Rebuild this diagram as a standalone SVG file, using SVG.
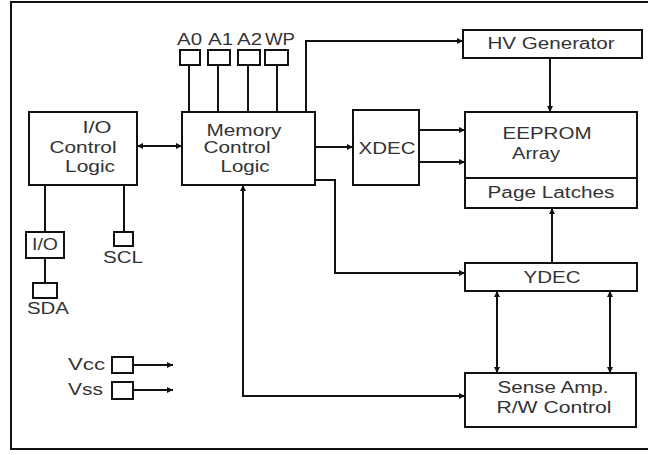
<svg xmlns="http://www.w3.org/2000/svg" width="648" height="455" viewBox="0 0 648 455">
<defs>
<style>
.b{fill:#fff;stroke:#111;stroke-width:2}
.l{fill:none;stroke:#111;stroke-width:2}
text{font-family:"Liberation Sans",Arial,sans-serif;font-size:16px;fill:#333;text-anchor:middle}
.s{text-anchor:start}
</style>
<marker id="ah" viewBox="0 0 10 10" refX="10" refY="5" markerWidth="9" markerHeight="6" markerUnits="userSpaceOnUse" orient="auto-start-reverse">
<path d="M0,0 L10,5 L0,10 Z" fill="#111"/>
</marker>
</defs>
<rect width="648" height="455" fill="#fff"/>
<path class="l" d="M648,2 H11 V449 H648"/>

<g id="connectors">
<line class="l" x1="137" y1="146" x2="182" y2="146" marker-start="url(#ah)" marker-end="url(#ah)"/>
<line class="l" x1="189" y1="65" x2="189" y2="112"/>
<line class="l" x1="218" y1="65" x2="218" y2="112"/>
<line class="l" x1="248" y1="65" x2="248" y2="112"/>
<line class="l" x1="277" y1="65" x2="277" y2="112"/>
<path class="l" d="M306,112 V41 H463" marker-end="url(#ah)"/>
<line class="l" x1="550" y1="58" x2="550" y2="112" marker-end="url(#ah)"/>
<line class="l" x1="315" y1="147" x2="353" y2="147" marker-end="url(#ah)"/>
<line class="l" x1="419" y1="130" x2="465" y2="130" marker-end="url(#ah)"/>
<line class="l" x1="419" y1="162" x2="465" y2="162" marker-end="url(#ah)"/>
<path class="l" d="M315,180 H335 V273 H465" marker-end="url(#ah)"/>
<line class="l" x1="552" y1="263" x2="552" y2="208" marker-end="url(#ah)"/>
<line class="l" x1="497" y1="291" x2="497" y2="373" marker-start="url(#ah)" marker-end="url(#ah)"/>
<line class="l" x1="610" y1="291" x2="610" y2="373" marker-start="url(#ah)" marker-end="url(#ah)"/>
<path class="l" d="M243,185 V396 H465" marker-start="url(#ah)" marker-end="url(#ah)"/>
<line class="l" x1="45" y1="185" x2="45" y2="232"/>
<line class="l" x1="45" y1="258" x2="45" y2="283"/>
<line class="l" x1="124" y1="185" x2="124" y2="232"/>
<line class="l" x1="133" y1="365" x2="173" y2="365" marker-end="url(#ah)"/>
<line class="l" x1="133" y1="390" x2="173" y2="390" marker-end="url(#ah)"/>
</g>

<g id="io-control">
<rect class="b" x="29" y="112" width="108" height="73"/>
<text x="97" y="133" textLength="29" lengthAdjust="spacingAndGlyphs">I/O</text>
<text x="83" y="153" textLength="67" lengthAdjust="spacingAndGlyphs">Control</text>
<text x="90" y="172" textLength="50" lengthAdjust="spacingAndGlyphs">Logic</text>
</g>

<g id="memory-control">
<rect class="b" x="182" y="112" width="133" height="73"/>
<text x="244" y="136" textLength="75" lengthAdjust="spacingAndGlyphs">Memory</text>
<text x="237" y="153" textLength="67" lengthAdjust="spacingAndGlyphs">Control</text>
<text x="245" y="172" textLength="49" lengthAdjust="spacingAndGlyphs">Logic</text>
</g>

<g id="pins-addr">
<rect class="b" x="180" y="50" width="20" height="15"/>
<rect class="b" x="208" y="50" width="22" height="15"/>
<rect class="b" x="238" y="50" width="22" height="15"/>
<rect class="b" x="265" y="50" width="23" height="15"/>
<text x="189.5" y="45" textLength="25" lengthAdjust="spacingAndGlyphs">A0</text>
<text x="220.5" y="45" textLength="25" lengthAdjust="spacingAndGlyphs">A1</text>
<text x="249.5" y="45" textLength="25" lengthAdjust="spacingAndGlyphs">A2</text>
<text x="280" y="45" textLength="30" lengthAdjust="spacingAndGlyphs">WP</text>
</g>

<g id="hv-generator">
<rect class="b" x="463" y="30" width="179" height="28"/>
<text x="551" y="49" textLength="127" lengthAdjust="spacingAndGlyphs">HV Generator</text>
</g>

<g id="xdec">
<rect class="b" x="353" y="110" width="66" height="75"/>
<text x="387" y="154" textLength="57" lengthAdjust="spacingAndGlyphs">XDEC</text>
</g>

<g id="eeprom">
<rect class="b" x="465" y="112" width="172" height="96"/>
<line class="l" x1="465" y1="178" x2="637" y2="178"/>
<text x="547" y="139" textLength="89" lengthAdjust="spacingAndGlyphs">EEPROM</text>
<text x="536" y="159" textLength="48" lengthAdjust="spacingAndGlyphs">Array</text>
<text x="551" y="198" textLength="127" lengthAdjust="spacingAndGlyphs">Page Latches</text>
</g>

<g id="ydec">
<rect class="b" x="465" y="263" width="172" height="28"/>
<text x="552" y="283" textLength="57" lengthAdjust="spacingAndGlyphs">YDEC</text>
</g>

<g id="sense-amp">
<rect class="b" x="465" y="373" width="171" height="54"/>
<text x="553" y="393" textLength="111" lengthAdjust="spacingAndGlyphs">Sense Amp.</text>
<text x="554" y="413" textLength="115" lengthAdjust="spacingAndGlyphs">R/W Control</text>
</g>

<g id="io-pin">
<rect class="b" x="26" y="232" width="38" height="26"/>
<text x="45" y="250" textLength="26" lengthAdjust="spacingAndGlyphs">I/O</text>
</g>

<g id="sda">
<rect class="b" x="33" y="283" width="24" height="15"/>
<text x="48" y="314" textLength="42" lengthAdjust="spacingAndGlyphs">SDA</text>
</g>

<g id="scl">
<rect class="b" x="114" y="232" width="19" height="14"/>
<text x="123" y="263" textLength="40" lengthAdjust="spacingAndGlyphs">SCL</text>
</g>

<g id="vcc">
<rect class="b" x="112" y="357" width="21" height="16"/>
<text class="s" x="68" y="370" textLength="37" lengthAdjust="spacingAndGlyphs">Vcc</text>
</g>

<g id="vss">
<rect class="b" x="112" y="382" width="21" height="17"/>
<text class="s" x="68" y="395" textLength="35" lengthAdjust="spacingAndGlyphs">Vss</text>
</g>
</svg>
